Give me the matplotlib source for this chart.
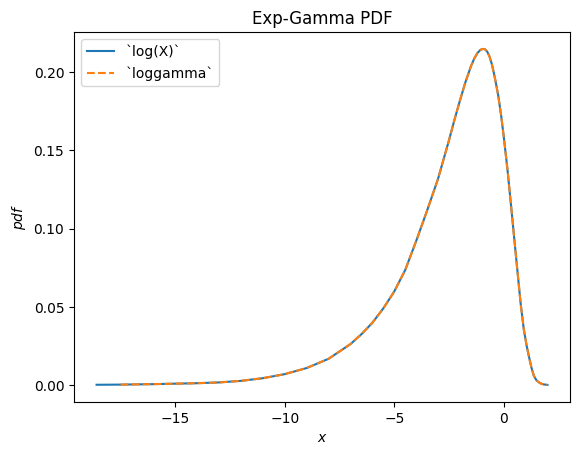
import numpy as np
import matplotlib
matplotlib.use('Agg')
import matplotlib.pyplot as plt

## values
logx_x = [-18.6, -17.5, -16.0, -15.0, -14.0, -13.0, -12.0, -11.0, -10.0, -9.0,
          -8.0, -7.0, -6.5, -6.0, -5.5, -5.0, -4.5, -4.0, -3.5, -3.0,
          -2.5, -2.25, -2.0, -1.75, -1.5, -1.35, -1.2, -1.05, -0.95, -0.85,
          -0.75, -0.65, -0.55, -0.45, -0.35, -0.25, -0.12, 0.0, 0.17, 0.32,
          0.47, 0.62, 0.77, 0.92, 1.05, 1.15, 1.27, 1.38, 1.5, 1.65,
          1.8, 2.0]
logx_y = [0.0002, 0.0003, 0.0006, 0.0009, 0.0012, 0.0017, 0.0027, 0.0044, 0.0070, 0.0109,
          0.0168, 0.0262, 0.0325, 0.0398, 0.0490, 0.0598, 0.0735, 0.0920, 0.1115, 0.1318,
          0.1564, 0.1695, 0.1818, 0.1935, 0.2036, 0.2085, 0.2122, 0.2143, 0.2148, 0.2145,
          0.2130, 0.2100, 0.2055, 0.1995, 0.1925, 0.1850, 0.1725, 0.1590, 0.1380, 0.1170,
          0.0953, 0.0739, 0.0526, 0.0354, 0.0250, 0.0184, 0.0110, 0.0058, 0.0030, 0.0013,
          0.0005, 0.0001]

lg_x = logx_x[1:]
lg_y = logx_y[1:]

fig, ax = plt.subplots()
ax.plot(logx_x, logx_y, label='`log(X)`')
ax.plot(lg_x, lg_y, '--', label='`loggamma`')
ax.set_xlabel('$x$')
ax.set_ylabel('$pdf$')
ax.set_title('Exp-Gamma PDF')
ax.legend()
plt.savefig('out.png', dpi=100, bbox_inches='tight')
